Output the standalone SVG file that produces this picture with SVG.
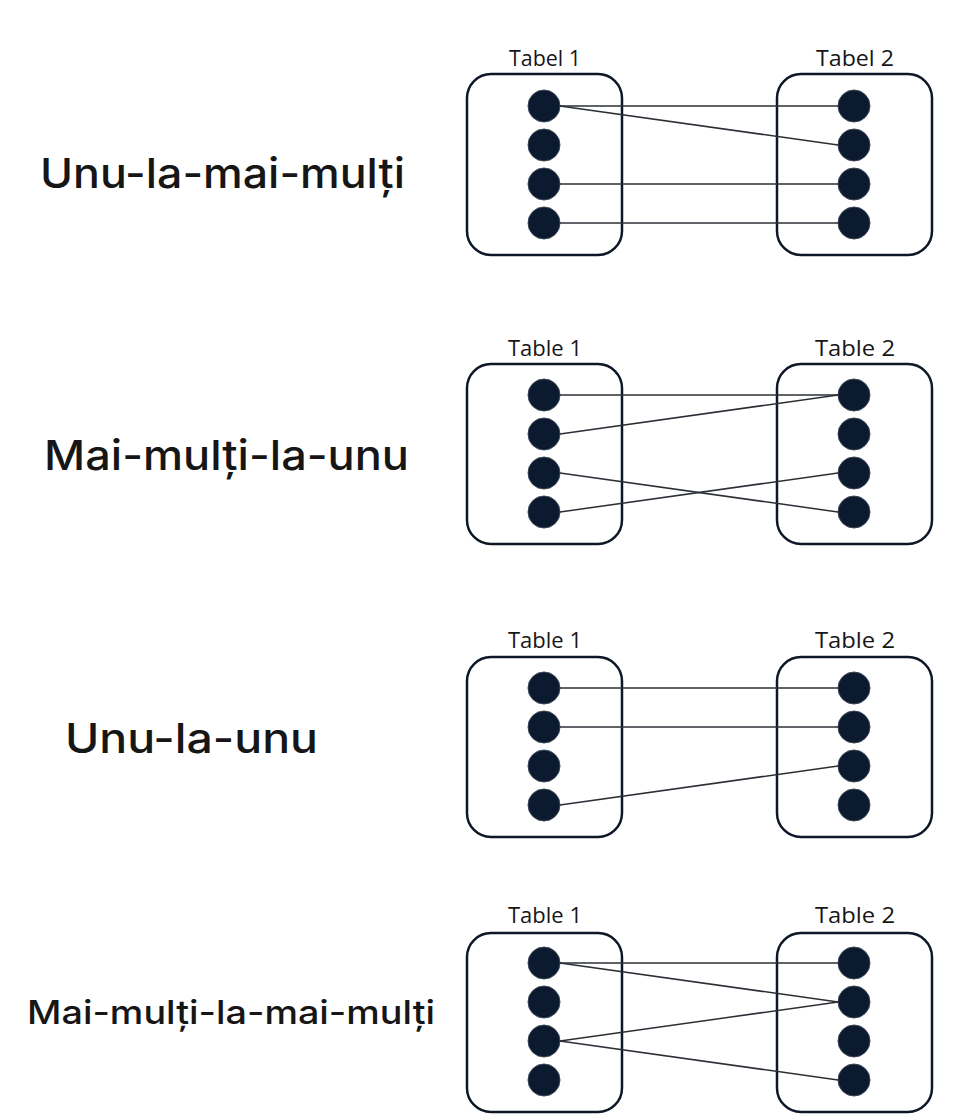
<svg xmlns="http://www.w3.org/2000/svg" width="959" height="1120" viewBox="0 0 959 1120">
<style>
.bg{fill:#ffffff}
.box{fill:none;stroke:#0d1726;stroke-width:2.5}
.dot{fill:#0b1a2e;stroke:#3a4656;stroke-width:1}
.con{stroke:#2b2f36;stroke-width:1.5;fill:none}
.title{font-family:"Inter","Open Sans","Liberation Sans",sans-serif;font-weight:500;fill:#161616;font-size:41px}
.tl{font-family:"Open Sans","Liberation Sans",sans-serif;font-weight:400;fill:#161616;font-size:21px;text-anchor:middle}
</style>
<rect class="bg" x="0" y="0" width="959" height="1120"/>

<!-- Section 1 -->
<g id="label-s1"><text class="title" x="40" y="188" textLength="365" lengthAdjust="spacingAndGlyphs">Unu-la-mai-mulți</text></g>
<g id="s1-t1">
<text class="tl" x="545" y="66" textLength="72" lengthAdjust="spacingAndGlyphs">Tabel 1</text>
<rect class="box" x="467" y="74" width="155" height="181" rx="24"/>
<circle class="dot" cx="544" cy="106" r="16"/><circle class="dot" cx="544" cy="145" r="16"/><circle class="dot" cx="544" cy="184" r="16"/><circle class="dot" cx="544" cy="223" r="16"/>
</g>
<g id="s1-t2">
<text class="tl" x="855" y="66" textLength="78" lengthAdjust="spacingAndGlyphs">Tabel 2</text>
<rect class="box" x="777" y="74" width="155" height="181" rx="24"/>
<circle class="dot" cx="854" cy="106" r="16"/><circle class="dot" cx="854" cy="145" r="16"/><circle class="dot" cx="854" cy="184" r="16"/><circle class="dot" cx="854" cy="223" r="16"/>
</g>

<!-- Section 2 -->
<g id="label-s2"><text class="title" x="44" y="470" textLength="365" lengthAdjust="spacingAndGlyphs">Mai-mulți-la-unu</text></g>
<g id="s2-t1">
<text class="tl" x="545" y="356" textLength="74" lengthAdjust="spacingAndGlyphs">Table 1</text>
<rect class="box" x="467" y="364" width="155" height="180" rx="24"/>
<circle class="dot" cx="544" cy="395" r="16"/><circle class="dot" cx="544" cy="434" r="16"/><circle class="dot" cx="544" cy="473" r="16"/><circle class="dot" cx="544" cy="512" r="16"/>
</g>
<g id="s2-t2">
<text class="tl" x="855" y="356" textLength="80" lengthAdjust="spacingAndGlyphs">Table 2</text>
<rect class="box" x="777" y="364" width="155" height="180" rx="24"/>
<circle class="dot" cx="854" cy="395" r="16"/><circle class="dot" cx="854" cy="434" r="16"/><circle class="dot" cx="854" cy="473" r="16"/><circle class="dot" cx="854" cy="512" r="16"/>
</g>

<!-- Section 3 -->
<g id="label-s3"><text class="title" x="65" y="753" textLength="253" lengthAdjust="spacingAndGlyphs">Unu-la-unu</text></g>
<g id="s3-t1">
<text class="tl" x="545" y="648" textLength="74" lengthAdjust="spacingAndGlyphs">Table 1</text>
<rect class="box" x="467" y="657" width="155" height="180" rx="24"/>
<circle class="dot" cx="544" cy="688" r="16"/><circle class="dot" cx="544" cy="727" r="16"/><circle class="dot" cx="544" cy="766" r="16"/><circle class="dot" cx="544" cy="805" r="16"/>
</g>
<g id="s3-t2">
<text class="tl" x="855" y="648" textLength="80" lengthAdjust="spacingAndGlyphs">Table 2</text>
<rect class="box" x="777" y="657" width="155" height="180" rx="24"/>
<circle class="dot" cx="854" cy="688" r="16"/><circle class="dot" cx="854" cy="727" r="16"/><circle class="dot" cx="854" cy="766" r="16"/><circle class="dot" cx="854" cy="805" r="16"/>
</g>

<!-- Section 4 -->
<g id="label-s4"><text class="title" x="27" y="1024" style="font-size:33px" textLength="408" lengthAdjust="spacingAndGlyphs">Mai-mulți-la-mai-mulți</text></g>
<g id="s4-t1">
<text class="tl" x="545" y="923" textLength="74" lengthAdjust="spacingAndGlyphs">Table 1</text>
<rect class="box" x="467" y="933" width="155" height="179" rx="24"/>
<circle class="dot" cx="544" cy="963" r="16"/><circle class="dot" cx="544" cy="1002" r="16"/><circle class="dot" cx="544" cy="1041" r="16"/><circle class="dot" cx="544" cy="1080" r="16"/>
</g>
<g id="s4-t2">
<text class="tl" x="855" y="923" textLength="80" lengthAdjust="spacingAndGlyphs">Table 2</text>
<rect class="box" x="777" y="933" width="155" height="179" rx="24"/>
<circle class="dot" cx="854" cy="963" r="16"/><circle class="dot" cx="854" cy="1002" r="16"/><circle class="dot" cx="854" cy="1041" r="16"/><circle class="dot" cx="854" cy="1080" r="16"/>
</g>

<g id="connectors">
<line class="con" x1="560" y1="106" x2="838" y2="106"/>
<line class="con" x1="560" y1="106" x2="838" y2="145"/>
<line class="con" x1="560" y1="184" x2="838" y2="184"/>
<line class="con" x1="560" y1="223" x2="838" y2="223"/>

<line class="con" x1="560" y1="395" x2="838" y2="395"/>
<line class="con" x1="560" y1="434" x2="838" y2="395"/>
<line class="con" x1="560" y1="473" x2="838" y2="512"/>
<line class="con" x1="560" y1="512" x2="838" y2="473"/>

<line class="con" x1="560" y1="688" x2="838" y2="688"/>
<line class="con" x1="560" y1="727" x2="838" y2="727"/>
<line class="con" x1="560" y1="805" x2="838" y2="766"/>

<line class="con" x1="560" y1="963" x2="838" y2="963"/>
<line class="con" x1="560" y1="963" x2="838" y2="1002"/>
<line class="con" x1="560" y1="1041" x2="838" y2="1002"/>
<line class="con" x1="560" y1="1041" x2="838" y2="1080"/>
</g>
</svg>
